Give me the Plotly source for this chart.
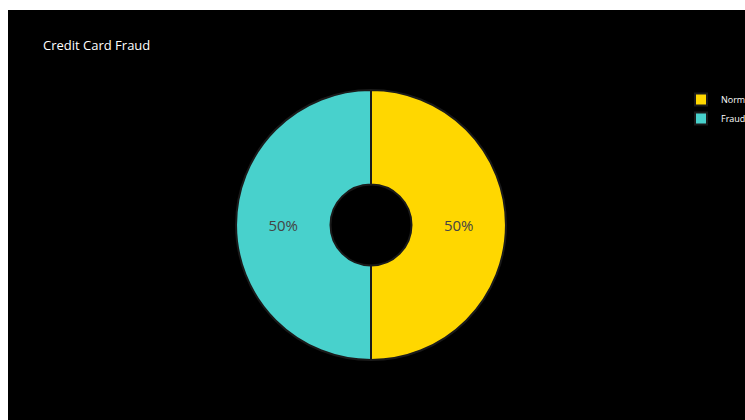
import plotly.graph_objects as go

labels = ["Normal", "Fraud"]
values = [492, 492]
colors = ["#FFD700", "#48D1CC"]

W, H = 745, 420
ml, mr, mt, mb = 80, 83, 90, 60
pw = W - ml - mr
ph = H - mt - mb

def px_x(p):
    return (p - ml) / pw

def px_y(p):
    return (H - mb - p) / ph

fig = go.Figure(
    go.Pie(
        labels=labels,
        values=values,
        hole=0.3,
        sort=False,
        direction="clockwise",
        marker=dict(colors=colors, line=dict(color="#1a1a1a", width=2)),
        textinfo="percent",
        textfont=dict(size=15, color="#444444", family="Open Sans"),
    )
)

fig.update_layout(
    width=W,
    height=H,
    margin=dict(l=ml, r=mr, t=mt, b=mb, autoexpand=False),
    paper_bgcolor="white",
    plot_bgcolor="black",
    font=dict(family="Open Sans", color="white"),
    title=dict(
        text="Credit Card Fraud",
        x=43 / W,
        xref="container",
        xanchor="left",
        y=1 - 45 / H,
        yref="container",
        yanchor="middle",
        font=dict(size=13, color="white", family="Open Sans"),
    ),
    legend=dict(
        x=px_x(681),
        xanchor="left",
        y=px_y(85),
        yanchor="top",
        font=dict(size=9, color="white"),
        bgcolor="rgba(0,0,0,0)",
    ),
    shapes=[
        dict(
            type="rect",
            xref="paper",
            yref="paper",
            x0=px_x(8),
            x1=px_x(760),
            y0=px_y(10),
            y1=px_y(430),
            fillcolor="black",
            line=dict(width=0),
            layer="below",
        )
    ],
)

fig.write_html("out.html")
